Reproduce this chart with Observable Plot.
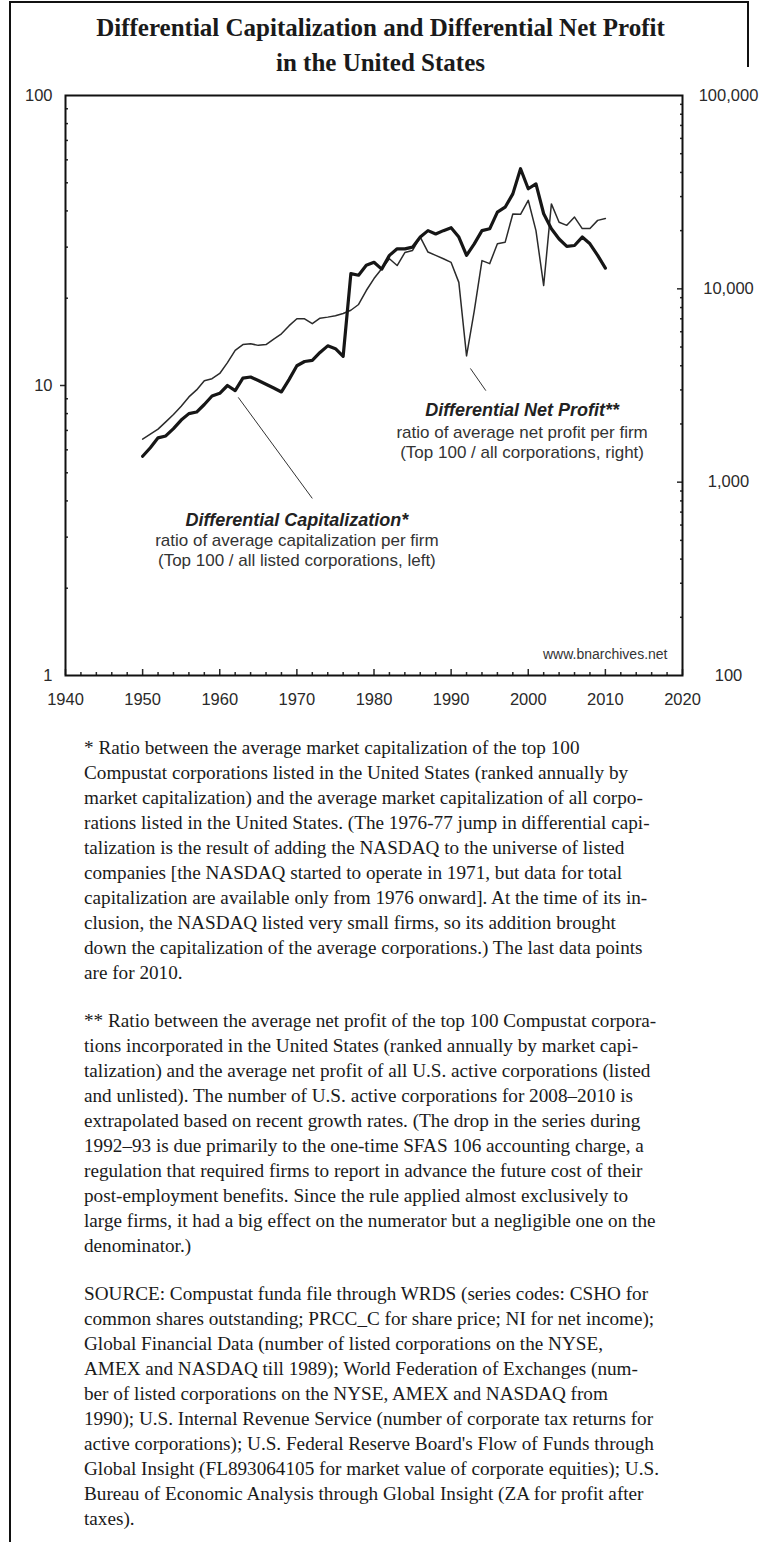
<!DOCTYPE html>
<html>
<head>
<meta charset="utf-8">
<script src="https://cdn.jsdelivr.net/npm/d3@7"></script>
<script src="https://cdn.jsdelivr.net/npm/@observablehq/plot@0.6"></script>
<style>
  html, body { margin: 0; padding: 0; background: #fff; }
  #page { position: relative; width: 761px; height: 1542px; overflow: hidden; background: #fff; }
  #lborder { position: absolute; left: 9px; top: 1px; width: 2px; height: 1542px; background: #111; }
  #tborder { position: absolute; left: 9px; top: 1px; width: 740px; height: 2px; background: #111; }
  #rborder { position: absolute; left: 747px; top: 1px; width: 2px; height: 66px; background: #111; }
  #title { position: absolute; left: 0; top: 10px; width: 761px; text-align: center;
           font-family: "Liberation Serif", "DejaVu Serif", serif; font-weight: bold; font-size: 25px;
           line-height: 35px; color: #1a1a1a; }
  #chart { position: absolute; left: 0; top: 80px; }
  #notes { position: absolute; left: 84px; top: 735px; font-family: "Liberation Serif", "DejaVu Serif", serif;
           font-size: 19.2px; line-height: 25px; color: #1a1a1a; }
  #notes .p { margin-bottom: 23px; }
  #notes .l { white-space: nowrap; }
</style>
</head>
<body>
<div id="page">
  <div id="lborder"></div><div id="tborder"></div><div id="rborder"></div>
  <div id="title">Differential Capitalization and Differential Net Profit<br>in the United States</div>
  <div id="chart"></div>
  <div id="notes"></div>
</div>
<script>
// ---------- data ----------
const years = [1950,1951,1952,1953,1954,1955,1956,1957,1958,1959,
               1960,1961,1962,1963,1964,1965,1966,1967,1968,1969,
               1970,1971,1972,1973,1974,1975,1976,1977,1978,1979,
               1980,1981,1982,1983,1984,1985,1986,1987,1988,1989,
               1990,1991,1992,1993,1994,1995,1996,1997,1998,1999,
               2000,2001,2002,2003,2004,2005,2006,2007,2008,2009,2010];

// Differential capitalization (left axis, ratio)
const capValues = [5.7,6.1,6.6,6.7,7.1,7.6,8.0,8.1,8.6,9.2,
                   9.4,10.0,9.6,10.6,10.7,10.4,10.1,9.8,9.5,10.5,
                   11.7,12.1,12.2,13.0,13.7,13.4,12.6,24.3,24.0,26.0,
                   26.6,25.2,28.1,29.6,29.6,30.0,32.5,34.2,33.3,34.2,
                   35.0,32.5,28.1,30.8,34.2,34.7,39.6,41.2,45.8,55.9,
                   47.7,49.6,39.1,34.7,32.0,30.2,30.4,32.5,30.8,28.1,25.4];

// Differential net profit (right axis, ratio)
const profitValues = [1670,1770,1880,2050,2240,2470,2760,3000,3350,3430,
                      3650,4150,4800,5150,5200,5100,5150,5500,5850,6450,
                      7000,7000,6600,7050,7140,7250,7450,7750,8300,9800,
                      11300,12700,14300,13200,15400,15800,18500,15500,14900,14300,
                      13700,10800,4500,7700,14000,13500,17100,17400,24400,24300,
                      28700,20000,10400,27500,22100,21300,23500,20500,20500,22600,23100];

const xMajorTicks = [1940,1950,1960,1970,1980,1990,2000,2010,2020];
const xMinorTicks = [1942,1944,1946,1948,1952,1954,1956,1958,1962,1964,1966,1968,1972,1974,1976,1978,
                     1982,1984,1986,1988,1992,1994,1996,1998,2002,2004,2006,2008,2012,2014,2016,2018];
const leftMajorTicks = [1, 10, 100];
const leftMinorTicks = [2,3,4,5,6,7,8,9,20,30,40,50,60,70,80,90];
const rightMajorTicks = [100, 1000, 10000, 100000];
const rightMinorTicks = [200,300,400,500,600,700,800,900,2000,3000,4000,5000,6000,7000,8000,9000,
                         20000,30000,40000,50000,60000,70000,80000,90000];

const capLabelLines = ["Differential Capitalization*", "ratio of average capitalization per firm", "(Top 100 / all listed corporations, left)"];
const profitLabelLines = ["Differential Net Profit**", "ratio of average net profit per firm", "(Top 100 / all corporations, right)"];
// label anchors (year, left-axis value)
const capLabelAnchor = [{year: 1970.0, value: 3.42}];
const profitLabelAnchor = [{year: 1999.2, value: 8.2}];
// pointer lines (year/left-axis value of both ends)
const pointers = [
  {x1: 1962.4, y1: 9.1, x2: 1972.0, y2: 4.08},
  {x1: 1992.5, y1: 11.45, x2: 1994.5, y2: 9.6}
];
const sourceCredit = ["www.bnarchives.net"];

const note1 = [
  "* Ratio between the average market capitalization of the top 100",
  "Compustat corporations listed in the United States (ranked annually by",
  "market capitalization) and the average market capitalization of all corpo-",
  "rations listed in the United States. (The 1976-77 jump in differential capi-",
  "talization is the result of adding the NASDAQ to the universe of listed",
  "companies [the NASDAQ started to operate in 1971, but data for total",
  "capitalization are available only from 1976 onward]. At the time of its in-",
  "clusion, the NASDAQ listed very small firms, so its addition brought",
  "down the capitalization of the average corporations.) The last data points",
  "are for 2010."
];
const note2 = [
  "** Ratio between the average net profit of the top 100 Compustat corpora-",
  "tions incorporated in the United States (ranked annually by market capi-",
  "talization) and the average net profit of all U.S. active corporations (listed",
  "and unlisted). The number of U.S. active corporations for 2008\u20132010 is",
  "extrapolated based on recent growth rates. (The drop in the series during",
  "1992\u201393 is due primarily to the one-time SFAS 106 accounting charge, a",
  "regulation that required firms to report in advance the future cost of their",
  "post-employment benefits. Since the rule applied almost exclusively to",
  "large firms, it had a big effect on the numerator but a negligible one on the",
  "denominator.)"
];
const note3 = [
  "SOURCE: Compustat funda file through WRDS (series codes: CSHO for",
  "common shares outstanding; PRCC_C for share price; NI for net income);",
  "Global Financial Data (number of listed corporations on the NYSE,",
  "AMEX and NASDAQ till 1989); World Federation of Exchanges (num-",
  "ber of listed corporations on the NYSE, AMEX and NASDAQ from",
  "1990); U.S. Internal Revenue Service (number of corporate tax returns for",
  "active corporations); U.S. Federal Reserve Board's Flow of Funds through",
  "Global Insight (FL893064105 for market value of corporate equities); U.S.",
  "Bureau of Economic Analysis through Global Insight (ZA for profit after",
  "taxes)."
];

// ---------- build ----------
// right axis (100..100,000, 3 decades) mapped onto left axis (1..100, 2 decades)
const toLeft = v => Math.pow(10, (Math.log10(v) - 2) * 2 / 3);
const fromLeft = d => Math.round(Math.pow(10, Math.log10(d) * 1.5 + 2));

const capData = years.map((year, i) => ({year, value: capValues[i]}));
const profitData = years.map((year, i) => ({year, value: profitValues[i]}));

const sans = "'Liberation Sans', Arial, Helvetica, sans-serif";

const chart = Plot.plot({
  width: 761,
  height: 635,
  marginTop: 15,
  marginBottom: 40,
  marginLeft: 65,
  marginRight: 79,
  x: {domain: [1940, 2020]},
  y: {type: "log", domain: [1, 100]},
  style: {fontFamily: sans, fontSize: "16px", color: "#2a2a2a", background: "transparent", overflow: "visible"},
  marks: [
    // bottom axis
    Plot.axisX({ticks: xMinorTicks, tickSize: -3, text: null, label: null, strokeWidth: 1.5}),
    Plot.axisX({ticks: xMajorTicks, tickSize: -6, text: null, label: null, strokeWidth: 1.5}),
    Plot.axisX({ticks: xMajorTicks, tickSize: 0, tickPadding: 18, tickFormat: d => String(d), label: null, fontSize: 16.5}),
    // left axis
    Plot.axisY({anchor: "left", ticks: leftMinorTicks, tickSize: -3, text: null, label: null, strokeWidth: 1.5}),
    Plot.axisY({anchor: "left", ticks: [10], tickSize: 5, text: null, label: null, strokeWidth: 1.5}),
    Plot.axisY({anchor: "left", ticks: leftMajorTicks, tickSize: 0, tickPadding: 13, tickFormat: d => String(d), label: null, fontSize: 16.5}),
    // right axis
    Plot.axisY({anchor: "right", ticks: rightMinorTicks.map(toLeft), tickSize: -3, text: null, label: null, strokeWidth: 1.5}),
    Plot.axisY({anchor: "right", ticks: [1000, 10000].map(toLeft), tickSize: -6, text: null, label: null, strokeWidth: 1.5}),
    Plot.axisY({anchor: "right", ticks: rightMajorTicks.map(toLeft), tickSize: 0, tickPadding: 46, textAnchor: "middle",
                tickFormat: d => d3.format(",")(fromLeft(d)), label: null, fontSize: 16.5}),
    Plot.frame({stroke: "#111", strokeWidth: 2}),
    // series
    Plot.line(profitData, {x: "year", y: d => toLeft(d.value), stroke: "#2b2b2b", strokeWidth: 1.5}),
    Plot.line(capData, {x: "year", y: "value", stroke: "#161616", strokeWidth: 3.2, strokeLinejoin: "round"}),
    // pointers
    Plot.link(pointers, {x1: "x1", y1: "y1", x2: "x2", y2: "y2", stroke: "#333", strokeWidth: 1}),
    // labels
    Plot.text(capLabelAnchor, {x: "year", y: "value", text: () => capLabelLines[0], fontWeight: "bold", fontStyle: "italic", fontSize: 18, letterSpacing: 0.5, fill: "#222"}),
    Plot.text(capLabelAnchor, {x: "year", y: "value", text: () => capLabelLines[1], dy: 20, fontSize: 17, fill: "#333"}),
    Plot.text(capLabelAnchor, {x: "year", y: "value", text: () => capLabelLines[2], dy: 40, fontSize: 17, fill: "#333"}),
    Plot.text(profitLabelAnchor, {x: "year", y: "value", text: () => profitLabelLines[0], fontWeight: "bold", fontStyle: "italic", fontSize: 18, letterSpacing: 0.6, fill: "#222"}),
    Plot.text(profitLabelAnchor, {x: "year", y: "value", text: () => profitLabelLines[1], dy: 22, fontSize: 17, fill: "#333"}),
    Plot.text(profitLabelAnchor, {x: "year", y: "value", text: () => profitLabelLines[2], dy: 42, fontSize: 17, fill: "#333"}),
    Plot.text(sourceCredit, {text: d => d, frameAnchor: "bottom-right", dx: -15, dy: -17, fontSize: 14, fill: "#333"})
  ]
});
document.getElementById("chart").appendChild(chart);

const notes = document.getElementById("notes");
[note1, note2, note3].forEach(lines => {
  const p = document.createElement("div");
  p.className = "p";
  lines.forEach(t => {
    const l = document.createElement("div");
    l.className = "l";
    l.textContent = t;
    p.appendChild(l);
  });
  notes.appendChild(p);
});
</script>
</body>
</html>
